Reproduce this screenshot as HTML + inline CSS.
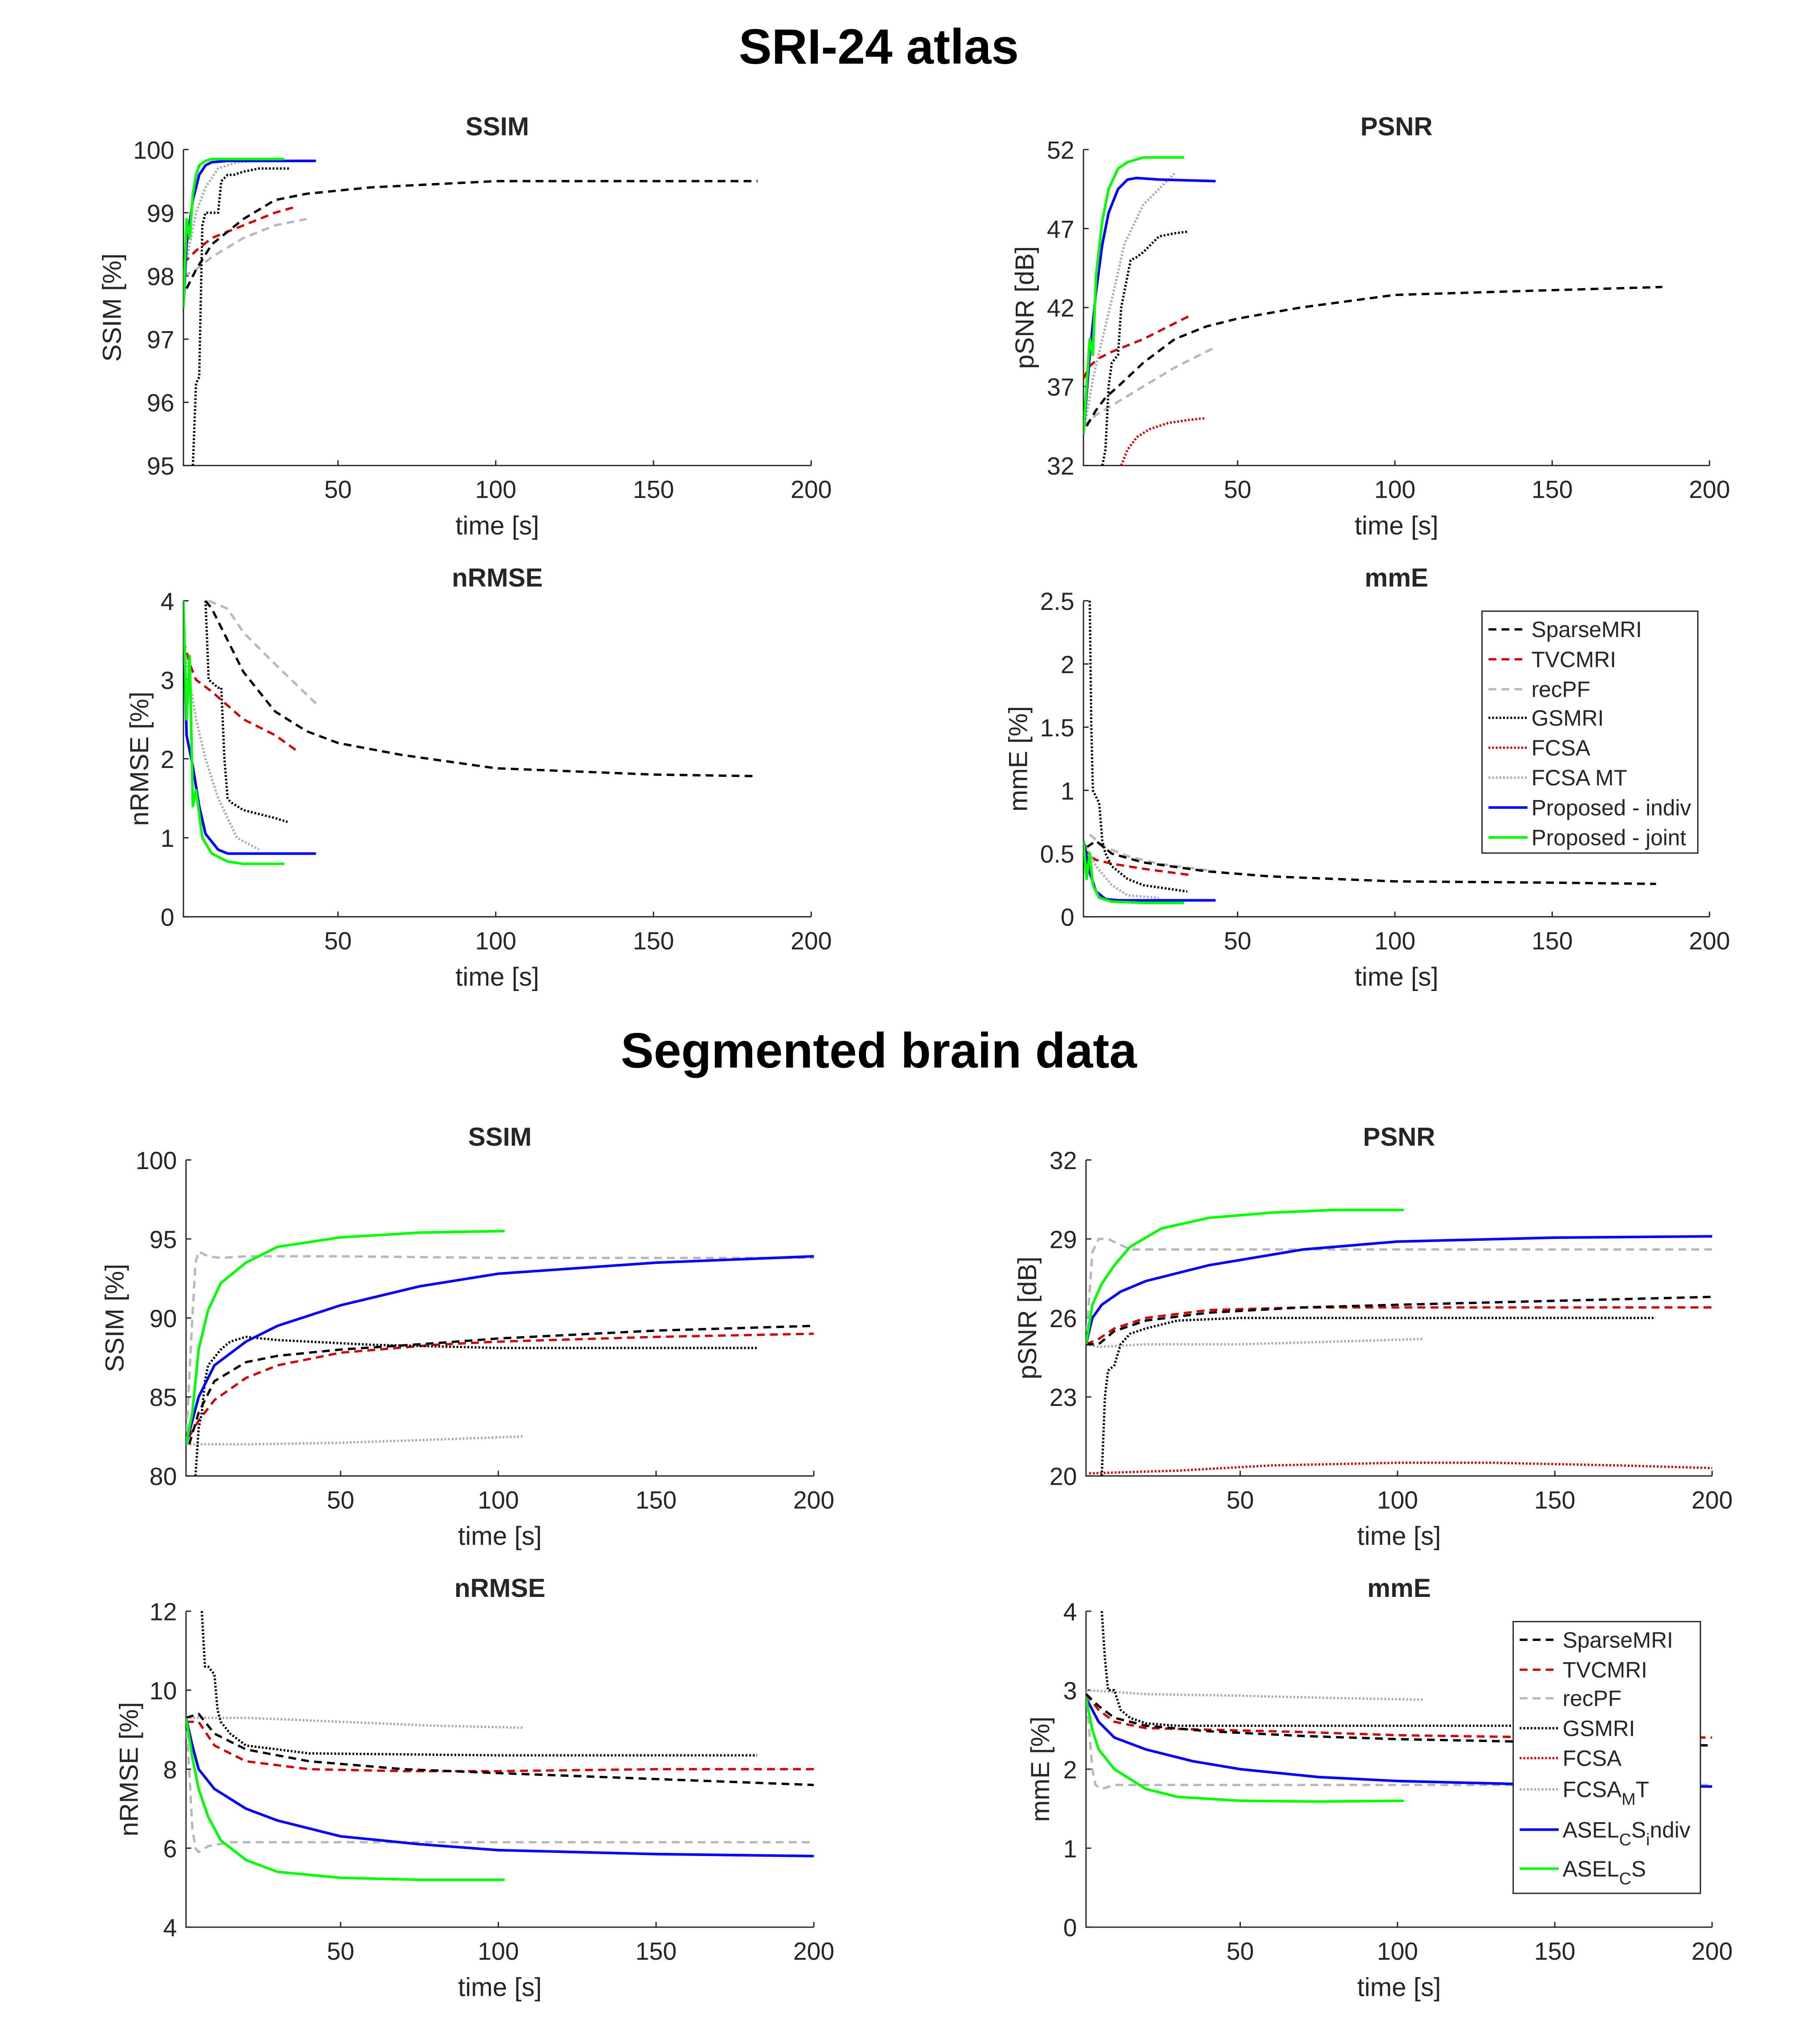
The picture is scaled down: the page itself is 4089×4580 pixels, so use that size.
<!DOCTYPE html>
<html><head><meta charset="utf-8"><style>
html,body{margin:0;padding:0;background:#fff}
svg{display:block}
text{font-family:"Liberation Sans",Arial,sans-serif;fill:#262626}
</style></head><body>
<svg id="fig" width="4089" height="4580" viewBox="0 0 1400 1568" preserveAspectRatio="none" xmlns="http://www.w3.org/2000/svg">
<text x="676" y="49" font-size="38" font-weight="bold" text-anchor="middle" style="fill:#000">SRI-24 atlas</text>
<text x="676" y="821" font-size="38" font-weight="bold" text-anchor="middle" style="fill:#000">Segmented brain data</text>
</svg>
<script>
// ---------- data (time [s], value) ----------
// Top SSIM
const t1_sparse=[2,5,10,20,30,40,60,80,100,150,183], v1_sparse=[97.8,98.1,98.5,98.9,99.2,99.3,99.4,99.45,99.5,99.5,99.5];
const t1_tvc=[1,5,10,20,30,37], v1_tvc=[98.2,98.4,98.6,98.8,99.0,99.1];
const t1_rec=[1,5,10,20,30,40], v1_rec=[98.0,98.1,98.3,98.6,98.8,98.9];
const t1_gs=[4,5,6,7,8,9,10,12,13,15,17,20,25,35], v1_gs=[95,96.3,96.4,98.8,99.0,99.0,99.0,99.0,99.5,99.6,99.6,99.65,99.7,99.7];
const t1_fmt=[1,3,5,8,12,18,25], v1_fmt=[98,98.5,99,99.4,99.7,99.8,99.82];
const t1_ind=[1,2,4,6,8,10,15,20,30,43], v1_ind=[97.5,98.5,99.2,99.6,99.75,99.8,99.82,99.82,99.82,99.82];
const t1_joi=[1,2,3,4,5,6,8,10,15,20,33], v1_joi=[97.5,98.9,98.6,99.3,99.6,99.75,99.82,99.85,99.85,99.85,99.85];
// Top PSNR
const t2_sparse=[2,5,8,12,20,30,40,50,70,100,150,185], v2_sparse=[34.5,35.5,36.3,37,38.5,40,40.8,41.3,42,42.8,43.1,43.3];
const t2_tvc=[1,3,6,10,20,35], v2_tvc=[37.5,38.3,38.8,39.2,40,41.5];
const t2_rec=[1,5,10,20,30,43], v2_rec=[34.5,35.2,35.8,37,38.2,39.5];
const t2_gs=[7,8,9,10,12,13,15,16,18,20,25,30,34], v2_gs=[32,33,37,38.5,39,42,44,45,45.2,45.5,46.5,46.7,46.8];
const t2_fcsa=[13,15,18,22,28,35,40], v2_fcsa=[32,33,33.8,34.3,34.7,34.9,35];
const t2_fmt=[1,4,7,10,14,20,30], v2_fmt=[34,37.5,40,42.5,46,48.5,50.5];
const t2_ind=[1,3,5,7,9,12,15,18,25,43], v2_ind=[34,39,43,46,48,49.5,50.1,50.2,50.1,50.0];
const t2_joi=[1,3,4,5,7,9,12,15,20,33], v2_joi=[34,40,39,44,47.5,49.5,50.8,51.2,51.5,51.5];
// Top nRMSE
const t3_sparse=[8,10,15,20,30,40,50,70,100,150,183], v3_sparse=[4,3.9,3.5,3.1,2.6,2.35,2.2,2.05,1.88,1.8,1.78];
const t3_tvc=[1,3,5,10,20,30,37], v3_tvc=[3.5,3.2,3.0,2.85,2.5,2.3,2.1];
const t3_rec=[9,15,20,30,43], v3_rec=[4,3.9,3.6,3.2,2.7];
const t3_gs=[8,9,12,13,14,15,16,18,20,25,30,34], v3_gs=[4,3,2.9,2.9,2.0,1.5,1.45,1.4,1.35,1.3,1.25,1.2];
const t3_fmt=[1,3,5,8,12,18,25], v3_fmt=[3.5,3.0,2.5,2.0,1.5,1.0,0.85];
const t3_ind=[1,2,4,6,8,12,15,20,30,43], v3_ind=[4,2.3,1.9,1.4,1.05,0.85,0.8,0.8,0.8,0.8];
const t3_joi=[1,2,3,4,5,7,10,15,20,33], v3_joi=[4,2.5,3.3,1.4,1.6,1.0,0.8,0.7,0.67,0.67];
// Top mmE
const t4_sparse=[2,5,10,20,40,60,100,150,183], v4_sparse=[0.55,0.6,0.5,0.43,0.36,0.32,0.28,0.27,0.26];
const t4_tvc=[1,3,5,10,20,35], v4_tvc=[0.55,0.48,0.45,0.42,0.38,0.33];
const t4_rec=[3,8,15,25,43], v4_rec=[0.65,0.55,0.48,0.42,0.36];
const t4_gs=[3,3.5,4,5,6,7,8,10,15,20,34], v4_gs=[2.5,1.5,1,0.95,0.9,0.6,0.5,0.4,0.3,0.25,0.2];
const t4_fmt=[1,5,10,15,25], v4_fmt=[0.6,0.4,0.25,0.17,0.15];
const t4_ind=[1,3,5,8,12,20,43], v4_ind=[0.6,0.35,0.2,0.14,0.13,0.13,0.13];
const t4_joi=[1,2,3,4,6,10,20,33], v4_joi=[0.6,0.3,0.5,0.25,0.15,0.12,0.11,0.11];
// Bottom SSIM
const t5_sparse=[2,5,10,20,30,50,80,100,150,200], v5_sparse=[82,84,86,87.2,87.6,88,88.4,88.7,89.2,89.5];
const t5_tvc=[2,5,10,20,30,50,80,100,150,200], v5_tvc=[82.5,83.5,84.8,86.2,87,87.8,88.3,88.5,88.8,89.0];
const t5_rec=[1,3,4,5,8,12,20,50,100,200], v5_rec=[82,90,93.5,94.2,93.9,93.8,93.9,93.9,93.8,93.8];
const t5_gs=[4,5,6,7,8,10,12,15,20,30,40,60,100,150,182], v5_gs=[80,83,84,86,87,87.5,88,88.5,88.8,88.6,88.5,88.3,88.1,88.1,88.1];
const t5_fmt=[1,20,50,80,108], v5_fmt=[82,82,82.1,82.3,82.5];
const t5_ind=[1,5,10,20,30,50,75,100,150,200], v5_ind=[82,85,87,88.5,89.5,90.8,92,92.8,93.5,93.9];
const t5_joi=[1,3,5,8,12,20,30,50,75,102], v5_joi=[82,84,88,90.5,92.2,93.5,94.5,95.1,95.4,95.5];
// Bottom PSNR
const t6_sparse=[1,5,10,20,40,70,100,150,200], v6_sparse=[25,25,25.5,25.9,26.2,26.4,26.5,26.65,26.8];
const t6_tvc=[1,5,10,20,40,70,100,150,200], v6_tvc=[25,25.2,25.6,26.0,26.3,26.4,26.4,26.4,26.4];
const t6_rec=[1,3,5,8,15,30,100,200], v6_rec=[25,28.5,29,29,28.6,28.6,28.6,28.6];
const t6_gs=[6,7,8,10,12,15,20,30,50,100,182], v6_gs=[20,23,24,24.2,25,25.4,25.6,25.9,26,26,26];
const t6_fcsa=[2,30,60,100,130,170,200], v6_fcsa=[20.1,20.2,20.4,20.5,20.5,20.4,20.3];
const t6_fmt=[1,5,20,50,80,108], v6_fmt=[25,24.9,25,25,25.1,25.2];
const t6_ind=[1,3,6,12,20,40,70,100,150,200], v6_ind=[25,26,26.5,27,27.4,28,28.6,28.9,29.05,29.1];
const t6_joi=[1,3,6,10,15,25,40,60,80,102], v6_joi=[25,26.5,27.3,28,28.7,29.4,29.8,30,30.1,30.1];
// Bottom nRMSE
const t7_sparse=[1,5,10,20,40,70,100,150,200], v7_sparse=[9.3,9.4,8.9,8.5,8.2,8.0,7.9,7.75,7.6];
const t7_tvc=[1,5,10,20,40,70,100,150,200], v7_tvc=[9.2,9.2,8.6,8.2,8.0,7.95,7.95,8.0,8.0];
const t7_rec=[1,2,3,4,5,8,15,50,200], v7_rec=[9.3,8,6.5,6.0,5.9,6.05,6.15,6.15,6.15];
const t7_gs=[6,7,8,10,11,12,15,20,30,40,100,182], v7_gs=[12,10.6,10.6,10.4,9.5,9.2,8.9,8.6,8.5,8.4,8.35,8.35];
const t7_fmt=[1,20,50,80,108], v7_fmt=[9.3,9.3,9.2,9.1,9.05];
const t7_ind=[1,3,5,10,20,30,50,75,100,150,200], v7_ind=[9.3,8.6,8.0,7.5,7.0,6.7,6.3,6.1,5.95,5.85,5.8];
const t7_joi=[1,3,5,8,12,20,30,50,75,102], v7_joi=[9.3,8.3,7.5,6.8,6.2,5.7,5.4,5.25,5.2,5.2];
// Bottom mmE
const t8_sparse=[1,5,10,20,40,70,100,150,200], v8_sparse=[2.95,2.8,2.65,2.55,2.48,2.42,2.38,2.34,2.3];
const t8_tvc=[1,5,10,20,40,70,100,150,200], v8_tvc=[2.95,2.75,2.6,2.52,2.5,2.47,2.43,2.4,2.4];
const t8_rec=[1,2,3,4,6,10,20,200], v8_rec=[3.0,2.5,2.0,1.8,1.75,1.8,1.8,1.8];
const t8_gs=[6,7,8,10,12,15,20,30,100,182], v8_gs=[4,3.4,3.0,3.0,2.75,2.65,2.58,2.55,2.55,2.55];
const t8_fmt=[1,20,50,80,108], v8_fmt=[3.0,2.95,2.93,2.9,2.88];
const t8_ind=[1,5,10,20,35,50,75,100,150,200], v8_ind=[2.9,2.6,2.4,2.25,2.1,2.0,1.9,1.85,1.8,1.78];
const t8_joi=[1,3,5,10,20,30,50,75,102], v8_joi=[2.9,2.5,2.25,2.0,1.75,1.65,1.6,1.59,1.6];

const xTicks=[50,100,150,200];
const yTicks1=[95,96,97,98,99,100], yTicks2=[32,37,42,47,52], yTicks3=[0,1,2,3,4], yTicks4=[0,0.5,1,1.5,2,2.5];
const yTicks5=[80,85,90,95,100], yTicks6=[20,23,26,29,32], yTicks7=[4,6,8,10,12], yTicks8=[0,1,2,3,4];

const NS='http://www.w3.org/2000/svg';
const svg=document.getElementById('fig');
const ST={
 sparse:{c:'#000',d:'6,4',w:1.8},
 tvc:{c:'#d00000',d:'6,4',w:1.8},
 rec:{c:'#b8b8b8',d:'6,4',w:1.8},
 gs:{c:'#000',d:'1.4,1.4',w:1.8},
 fcsa:{c:'#d00000',d:'1.4,1.4',w:1.8},
 fmt:{c:'#aaaaaa',d:'1.4,1.4',w:1.8},
 ind:{c:'#0000ff',d:'',w:2},
 joi:{c:'#00ff00',d:'',w:2}
};
function mk(tag,attrs,parent){const e=document.createElementNS(NS,tag);for(const k in attrs)e.setAttribute(k,attrs[k]);(parent||svg).appendChild(e);return e;}

function panel(id,cfg,series){
 const g=mk('g',{});
 
 
 const sx=(cfg.x200-cfg.x50)/150;
 const X=t=>cfg.x50+(t-50)*sx;
 const Y=v=>cfg.yb-(v-cfg.ymin)/(cfg.ymax-cfg.ymin)*(cfg.yb-cfg.yt);
 const L=X(1);
 const cp=mk('clipPath',{id:'cp'+id},g);
 mk('rect',{x:L,y:cfg.yt-1,width:X(200)-L+2,height:cfg.yb-cfg.yt+2},cp);
 const ax=mk('path',{d:`M${L},${cfg.yt}V${cfg.yb}H${X(200)}`,fill:'none',stroke:'#262626','stroke-width':1},g);
 
 
 xTicks.forEach(t=>{
  mk('line',{x1:X(t),x2:X(t),y1:cfg.yb,y2:cfg.yb-4,stroke:'#262626'},g);
  const tx=mk('text',{x:X(t),y:cfg.yb+25,'font-size':19,'text-anchor':'middle'},g);
  tx.textContent=t;
  
  
 });
 cfg.yticks.forEach(v=>{
  mk('line',{x1:L,x2:L+4,y1:Y(v),y2:Y(v),stroke:'#262626'},g);
  const tx=mk('text',{x:L-7,y:Y(v)+7,'font-size':19,'text-anchor':'end'},g);
  tx.textContent=v;
  
  
 });
 const xl=mk('text',{x:(L+X(200))/2,y:cfg.yb+53,'font-size':20,'text-anchor':'middle'},g);
 xl.textContent='time [s]';
 
 
 const yc=(cfg.yt+cfg.yb)/2;
 const yl=mk('text',{x:cfg.ylx,y:yc,'font-size':20,'text-anchor':'middle',transform:`rotate(-90 ${cfg.ylx} ${yc})`},g);
 yl.textContent=cfg.ylabel;
 
 
 const ti=mk('text',{x:(L+X(200))/2,y:cfg.yt-11,'font-size':20,'font-weight':'bold','text-anchor':'middle'},g);
 ti.textContent=cfg.title;
 
 
 const sg=mk('g',{'clip-path':`url(#cp${id})`},g);
 series.forEach(([key,ts,vs])=>{
  const s=ST[key];
  const d=ts.map((t,i)=>(i?'L':'M')+X(t).toFixed(2)+','+Y(vs[i]).toFixed(2)).join('');
  const p=mk('path',{d:d,fill:'none',stroke:s.c,'stroke-width':s.w,'stroke-dasharray':s.d,'stroke-linejoin':'round'},sg);
  
  
 });
}
panel(1,{name:'top-ssim',title:'SSIM',ylabel:'SSIM [%]',ylx:93,x50:260,x200:624,yt:115,yb:358,ymin:95,ymax:100,yticks:yTicks1},
 [['rec',t1_rec,v1_rec],['tvc',t1_tvc,v1_tvc],['sparse',t1_sparse,v1_sparse],['gs',t1_gs,v1_gs],['fmt',t1_fmt,v1_fmt],['ind',t1_ind,v1_ind],['joi',t1_joi,v1_joi]]);
panel(2,{name:'top-psnr',title:'PSNR',ylabel:'pSNR [dB]',ylx:795,x50:952,x200:1315,yt:115,yb:358,ymin:32,ymax:52,yticks:yTicks2},
 [['rec',t2_rec,v2_rec],['tvc',t2_tvc,v2_tvc],['sparse',t2_sparse,v2_sparse],['gs',t2_gs,v2_gs],['fcsa',t2_fcsa,v2_fcsa],['fmt',t2_fmt,v2_fmt],['ind',t2_ind,v2_ind],['joi',t2_joi,v2_joi]]);
panel(3,{name:'top-nrmse',title:'nRMSE',ylabel:'nRMSE [%]',ylx:114,x50:260,x200:624,yt:462,yb:705,ymin:0,ymax:4,yticks:yTicks3},
 [['rec',t3_rec,v3_rec],['tvc',t3_tvc,v3_tvc],['sparse',t3_sparse,v3_sparse],['gs',t3_gs,v3_gs],['fmt',t3_fmt,v3_fmt],['ind',t3_ind,v3_ind],['joi',t3_joi,v3_joi]]);
panel(4,{name:'top-mme',title:'mmE',ylabel:'mmE [%]',ylx:790,x50:952,x200:1315,yt:462,yb:705,ymin:0,ymax:2.5,yticks:yTicks4},
 [['rec',t4_rec,v4_rec],['tvc',t4_tvc,v4_tvc],['sparse',t4_sparse,v4_sparse],['gs',t4_gs,v4_gs],['fmt',t4_fmt,v4_fmt],['ind',t4_ind,v4_ind],['joi',t4_joi,v4_joi]]);
panel(5,{name:'bottom-ssim',title:'SSIM',ylabel:'SSIM [%]',ylx:95,x50:262,x200:626,yt:892,yb:1135,ymin:80,ymax:100,yticks:yTicks5},
 [['rec',t5_rec,v5_rec],['fmt',t5_fmt,v5_fmt],['tvc',t5_tvc,v5_tvc],['sparse',t5_sparse,v5_sparse],['gs',t5_gs,v5_gs],['ind',t5_ind,v5_ind],['joi',t5_joi,v5_joi]]);
panel(6,{name:'bottom-psnr',title:'PSNR',ylabel:'pSNR [dB]',ylx:797,x50:954,x200:1317,yt:892,yb:1135,ymin:20,ymax:32,yticks:yTicks6},
 [['rec',t6_rec,v6_rec],['fmt',t6_fmt,v6_fmt],['fcsa',t6_fcsa,v6_fcsa],['tvc',t6_tvc,v6_tvc],['sparse',t6_sparse,v6_sparse],['gs',t6_gs,v6_gs],['ind',t6_ind,v6_ind],['joi',t6_joi,v6_joi]]);
panel(7,{name:'bottom-nrmse',title:'nRMSE',ylabel:'nRMSE [%]',ylx:106,x50:262,x200:626,yt:1239,yb:1482,ymin:4,ymax:12,yticks:yTicks7},
 [['rec',t7_rec,v7_rec],['fmt',t7_fmt,v7_fmt],['tvc',t7_tvc,v7_tvc],['sparse',t7_sparse,v7_sparse],['gs',t7_gs,v7_gs],['ind',t7_ind,v7_ind],['joi',t7_joi,v7_joi]]);
panel(8,{name:'bottom-mme',title:'mmE',ylabel:'mmE [%]',ylx:807,x50:954,x200:1317,yt:1239,yb:1482,ymin:0,ymax:4,yticks:yTicks8},
 [['rec',t8_rec,v8_rec],['fmt',t8_fmt,v8_fmt],['tvc',t8_tvc,v8_tvc],['sparse',t8_sparse,v8_sparse],['gs',t8_gs,v8_gs],['ind',t8_ind,v8_ind],['joi',t8_joi,v8_joi]]);

function legend(x,y,w,h,items,name){
 const g=mk('g',{});
 
 
 mk('rect',{x:x,y:y,width:w,height:h,fill:'#fff',stroke:'#262626','stroke-width':1},g);
 items.forEach(([key,label,yy])=>{
  const s=ST[key];
  mk('line',{x1:x+5,x2:x+35,y1:yy,y2:yy,stroke:s.c,'stroke-width':s.w,'stroke-dasharray':s.d},g);
  const t=mk('text',{x:x+38,y:yy+6,'font-size':17},g);
  t.innerHTML=label;
  
  
 });
}
legend(1140,470,166,186,[['sparse','SparseMRI',484],['tvc','TVCMRI',507],['rec','recPF',530],['gs','GSMRI',552],['fcsa','FCSA',575],['fmt','FCSA MT',598],['ind','Proposed - indiv',621],['joi','Proposed - joint',644]],'legend-top');
legend(1164,1247,144,209,[['sparse','SparseMRI',1261],['tvc','TVCMRI',1284],['rec','recPF',1306],['gs','GSMRI',1329],['fcsa','FCSA',1352],['fmt','FCSA<tspan dy="6" font-size="13">M</tspan><tspan dy="-6">T</tspan>',1376],['ind','ASEL<tspan dy="6" font-size="13">C</tspan><tspan dy="-6">S</tspan><tspan dy="6" font-size="13">i</tspan><tspan dy="-6">ndiv</tspan>',1407],['joi','ASEL<tspan dy="6" font-size="13">C</tspan><tspan dy="-6">S</tspan>',1437]],'legend-bottom');
</script>
</body></html>
